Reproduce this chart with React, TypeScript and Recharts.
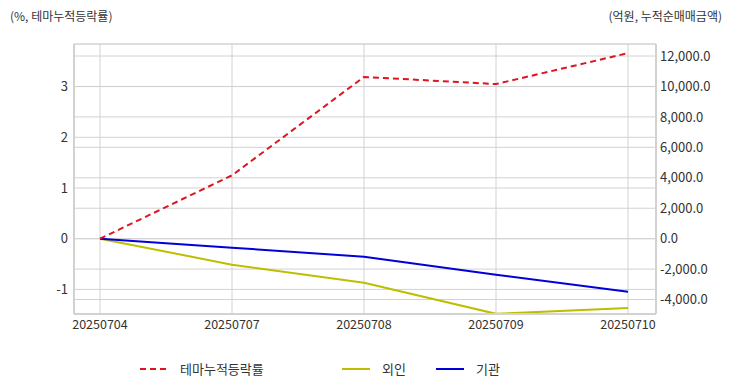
import React from "react";
import {
  LineChart,
  Line,
  XAxis,
  YAxis,
  CartesianGrid,
  Legend,
} from "recharts";

// trading dates
const dates = ["20250704", "20250707", "20250708", "20250709", "20250710"];
// theme cumulative change rate (%)
const themeRate = [0, 1.25, 3.19, 3.05, 3.66];
// cumulative net buying (100M KRW)
const foreign = [0, -1710, -2900, -4940, -4550];
const institution = [0, -590, -1190, -2370, -3490];

const leftTicks = [-1, 0, 1, 2, 3];
const rightTicks = [-4000, -2000, 0, 2000, 4000, 6000, 8000, 10000, 12000];

const data = dates.map((d, i) => ({
  date: d,
  theme: themeRate[i],
  foreign: foreign[i],
  inst: institution[i],
}));

const FONT = "'Noto Sans CJK KR', 'Noto Sans', sans-serif";
const GRID = "#d2d2d2";
const TEXT = "#333";

const legendItems = [
  { name: "테마누적등락률", color: "#e0141e", dash: "6 4", x: 140 },
  { name: "외인", color: "#bebe00", dash: undefined, x: 342 },
  { name: "기관", color: "#0000d8", dash: undefined, x: 436 },
];

const renderLegend = () => (
  <svg width={732} height={24} style={{ display: "block" }}>
    {legendItems.map((it) => (
      <g key={it.name}>
        <line
          x1={it.x}
          x2={it.x + 28}
          y1={12}
          y2={12}
          stroke={it.color}
          strokeWidth={2}
          strokeDasharray={it.dash}
        />
        <text
          x={it.x + 40}
          y={17}
          fontSize={13}
          fill={TEXT}
          fontFamily={FONT}
        >
          {it.name}
        </text>
      </g>
    ))}
  </svg>
);

const fmtRight = (v: number) =>
  v.toLocaleString("en-US", { minimumFractionDigits: 1, maximumFractionDigits: 1 });

export default function App() {
  return (
    <div
      style={{
        position: "absolute",
        left: 0,
        top: 0,
        width: 732,
        height: 392,
        background: "#fff",
        fontFamily: FONT,
      }}
    >
      <div style={{ position: "absolute", left: 10, top: 7, fontSize: 12, color: TEXT }}>
        (%, 테마누적등락률)
      </div>
      <div style={{ position: "absolute", right: 10, top: 7, fontSize: 12, color: TEXT }}>
        (억원, 누적순매매금액)
      </div>
      <LineChart
        width={732}
        height={392}
        data={data}
        margin={{ top: 44, right: 0, bottom: 0, left: 0 }}
      >
        <CartesianGrid yAxisId="left" stroke={GRID} strokeWidth={1} vertical={true} />
        <CartesianGrid yAxisId="right" stroke={GRID} strokeWidth={1} vertical={false} />
        <XAxis
          dataKey="date"
          height={54}
          padding={{ left: 26, right: 28 }}
          tickLine={false}
          axisLine={{ stroke: GRID, strokeWidth: 2 }}
          tick={{ fill: TEXT, fontSize: 12.5, fontFamily: FONT }}
          tickMargin={0}
          interval={0}
        />
        <XAxis
          xAxisId="top"
          orientation="top"
          dataKey="date"
          height={0}
          tick={false}
          tickLine={false}
          axisLine={{ stroke: GRID, strokeWidth: 2 }}
        />
        <YAxis
          yAxisId="left"
          width={74}
          domain={[-1.485, 3.84]}
          ticks={leftTicks}
          allowDataOverflow
          tickLine={false}
          tickSize={6}
          tickMargin={0}
          axisLine={{ stroke: GRID, strokeWidth: 2 }}
          tick={{ fill: TEXT, fontSize: 13, fontFamily: FONT }}
        />
        <YAxis
          yAxisId="right"
          orientation="right"
          width={76}
          domain={[-4950, 12790]}
          ticks={rightTicks}
          allowDataOverflow
          tickFormatter={fmtRight}
          tickLine={false}
          tickSize={4}
          tickMargin={0}
          axisLine={{ stroke: GRID, strokeWidth: 2 }}
          tick={{ fill: TEXT, fontSize: 13, fontFamily: FONT }}
        />
        <Line
          yAxisId="right"
          dataKey="foreign"
          name="외인"
          stroke="#bebe00"
          strokeWidth={2}
          dot={false}
          isAnimationActive={false}
        />
        <Line
          yAxisId="right"
          dataKey="inst"
          name="기관"
          stroke="#0000d8"
          strokeWidth={2}
          dot={false}
          isAnimationActive={false}
        />
        <Line
          yAxisId="left"
          dataKey="theme"
          name="테마누적등락률"
          stroke="#e0141e"
          strokeWidth={2}
          strokeDasharray="6 4"
          dot={false}
          isAnimationActive={false}
        />
        <Legend
          verticalAlign="bottom"
          content={renderLegend}
          wrapperStyle={{ left: 0, bottom: 11, width: 732 }}
        />
      </LineChart>
    </div>
  );
}
